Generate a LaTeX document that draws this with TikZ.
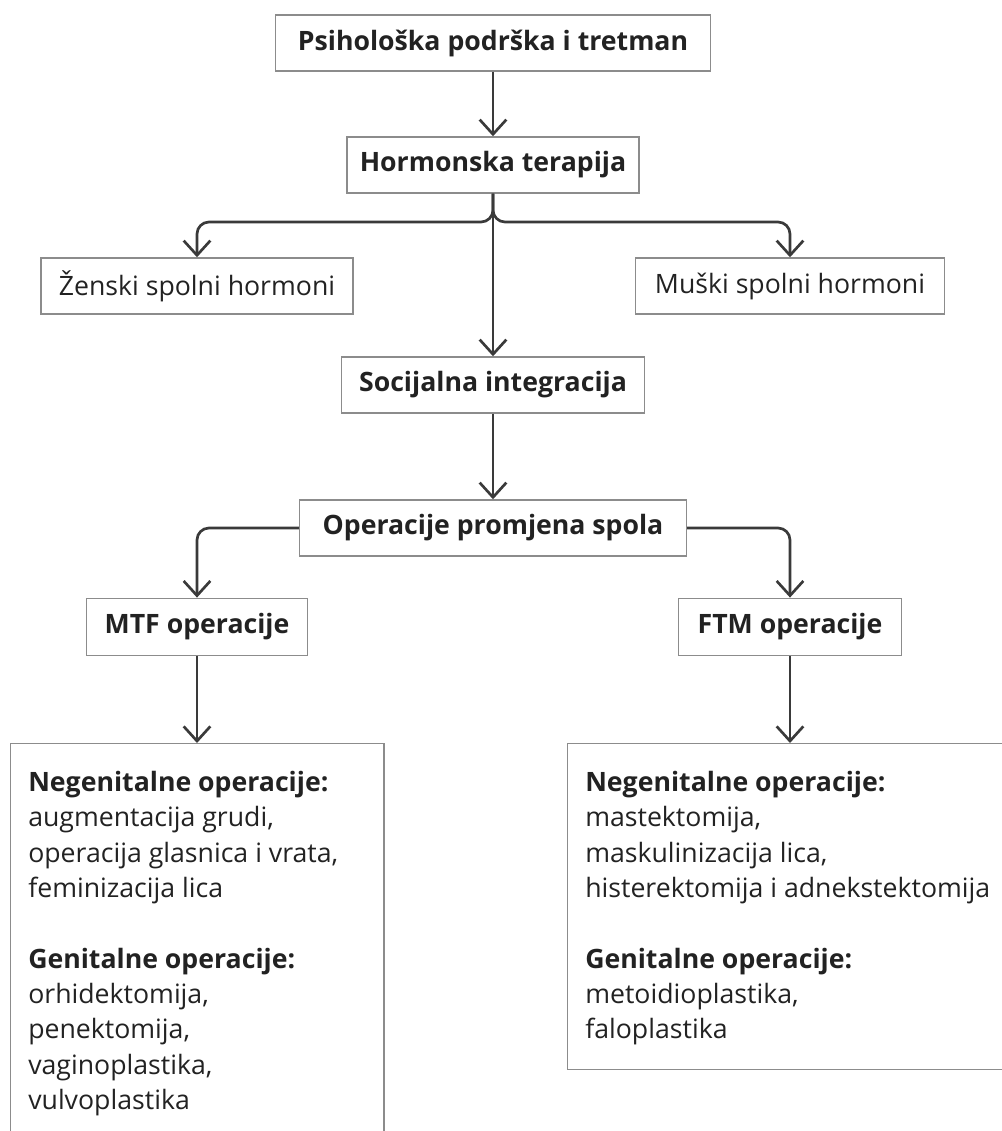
\documentclass[tikz,border=0pt]{standalone}
\usepackage{fontspec}
\setmainfont{Open Sans}
\usetikzlibrary{arrows.meta}
\definecolor{linegray}{HTML}{3A3A3A}
\definecolor{boxgray}{HTML}{8C8C8C}
\definecolor{inkgray}{HTML}{222222}

\begin{document}
\begin{tikzpicture}[x=0.75pt, y=-0.75pt,
  stagebox/.style={draw=boxgray, line width=1.1pt, text=inkgray, inner sep=0pt,
    minimum height=42pt, font=\fontsize{20}{26.5}\selectfont\bfseries},
  hormbox/.style={stagebox, font=\fontsize{20}{26.5}\selectfont},
  opsbox/.style={draw=boxgray, line width=1.1pt, inner sep=0pt, anchor=north west},
  opstext/.style={text=inkgray, inner sep=0pt, anchor=north west, align=left,
    font=\fontsize{20}{26.5}\selectfont},
  flow/.style={draw=linegray, line width=2pt, -{Straight Barb[length=11pt,width=20pt]}}]

  \useasboundingbox (0,0) rectangle (1001,1131);

  % Main chain
  \node[stagebox, minimum width=326pt] (psih) at (493,43) {Psihološka podrška i tretman};
  \node[stagebox, minimum width=219pt] (horm) at (493,165) {Hormonska terapija};
  \node[hormbox, minimum width=234pt] (zen) at (197,286) {Ženski spolni hormoni};
  \node[hormbox, minimum width=232pt] (mus) at (790,286) {Muški spolni hormoni};
  \node[stagebox, minimum width=227pt] (soc) at (493,385) {Socijalna integracija};
  \node[stagebox, minimum width=290pt] (oper) at (493,528) {Operacije promjena spola};
  \node[stagebox, minimum width=166pt, minimum height=43pt] (mtf) at (197,627) {MTF operacije};
  \node[stagebox, minimum width=167pt, minimum height=43pt] (ftm) at (790,627) {FTM operacije};

  % Operation lists (borders run off the page)
  \node[opsbox, minimum width=280pt, minimum height=330pt] (mtfops) at (10,743) {};
  \node[opsbox, minimum width=338pt, minimum height=244.5pt] (ftmops) at (567,743) {};
  \node[opstext] (mtflist) at ([xshift=13.5pt,yshift=-21pt]mtfops.north west)
    {\textbf{Negenitalne operacije:}\\ augmentacija grudi,\\ operacija glasnica i vrata,\\
     feminizacija lica\\[26.5pt] \textbf{Genitalne operacije:}\\ orhidektomija,\\
     penektomija,\\ vaginoplastika,\\ vulvoplastika};
  \node[opstext] (ftmlist) at ([xshift=13.5pt,yshift=-21pt]ftmops.north west)
    {\textbf{Negenitalne operacije:}\\ mastektomija,\\ maskulinizacija lica,\\
     histerektomija i adnekstektomija\\[26.5pt] \textbf{Genitalne operacije:}\\
     metoidioplastika,\\ faloplastika};

  % Connectors
  \coordinate (hsplit) at (493,222);
  \draw[flow] (psih) -- (horm);
  \draw[flow, rounded corners=9pt] (horm.south) -- (hsplit) -| (zen.north);
  \draw[flow, rounded corners=9pt] (horm.south) -- (hsplit) -| (mus.north);
  \draw[flow] (horm) -- (soc);
  \draw[flow] (soc) -- (oper);
  \draw[flow, rounded corners=9pt] (oper.west) -| (mtf.north);
  \draw[flow, rounded corners=9pt] (oper.east) -| (ftm.north);
  \draw[flow] (mtf.south) -- (mtf.south |- mtfops.north);
  \draw[flow] (ftm.south) -- (ftm.south |- ftmops.north);
\end{tikzpicture}
\end{document}
